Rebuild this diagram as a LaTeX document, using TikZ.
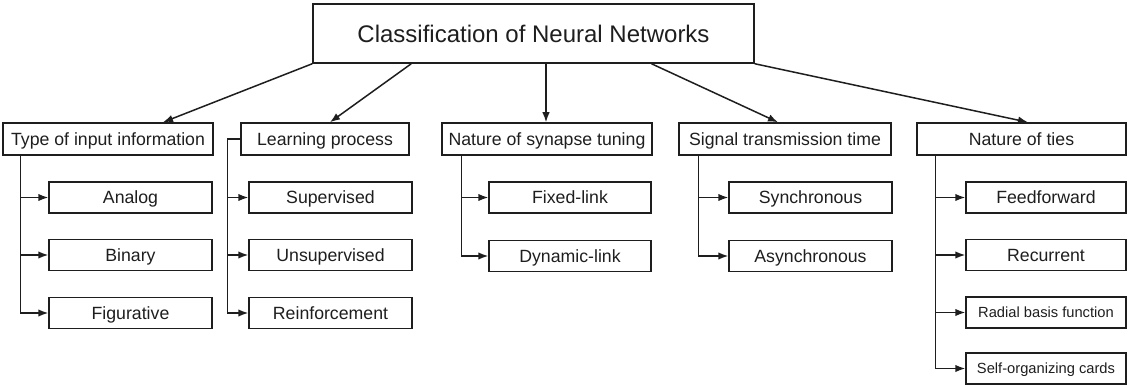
\documentclass[tikz,border=0pt]{standalone}
\usepackage{fontspec}
\setmainfont{Liberation Sans}
\usetikzlibrary{arrows.meta,calc}
\definecolor{ink}{RGB}{30,30,30}
\tikzset{
  box/.style={draw=ink, text=ink, line width=1.5pt, rectangle, inner sep=0pt, align=center, text depth=0pt},
  titlebox/.style={box, minimum width=441pt, minimum height=59pt, text height=17.2pt, font=\fontsize{24}{28}\selectfont},
  catbox/.style={box, minimum height=32pt, text height=12.7pt, font=\fontsize{17.7}{21}\selectfont},
  leafbox/.style={box, minimum height=31pt, text height=12.7pt, font=\fontsize{17.7}{21}\selectfont},
  smallleaf/.style={leafbox, text height=10.5pt, font=\fontsize{14.7}{18}\selectfont},
  link/.style={draw=ink, line width=1.5pt},
  arr/.style={link, -{Latex[length=10pt,width=7.5pt]}},
}
\begin{document}
\begin{tikzpicture}[x=1pt,y=-1pt]
\useasboundingbox (0,0) rectangle (1128,385);

% title
\node[titlebox] (title) at (533.5,33.5) {Classification of Neural Networks};

% categories
\node[catbox, minimum width=210pt] (ti) at (108,139) {Type of input information};
\node[catbox, minimum width=168pt] (lp) at (325,139) {Learning process};
\node[catbox, minimum width=210pt] (ns) at (547,139) {Nature of synapse tuning};
\node[catbox, minimum width=212pt] (st) at (785,139) {Signal transmission time};
\node[catbox, minimum width=209pt] (nt) at (1021.5,139) {Nature of ties};

% leaves
\node[leafbox, minimum width=163pt] (analog) at (130.5,197.5) {Analog};
\node[leafbox, minimum width=163pt] (binary) at (130.5,255) {Binary};
\node[leafbox, minimum width=163pt] (figur) at (130.5,313) {Figurative};

\node[leafbox, minimum width=163pt] (superv) at (330.5,197.5) {Supervised};
\node[leafbox, minimum width=163pt] (unsup) at (330.5,255) {Unsupervised};
\node[leafbox, minimum width=163pt] (reinf) at (330.5,313) {Reinforcement};

\node[leafbox, minimum width=162pt] (fixed) at (570,197.5) {Fixed-link};
\node[leafbox, minimum width=162pt] (dynam) at (570,256) {Dynamic-link};

\node[leafbox, minimum width=163pt] (sync) at (810.5,197.5) {Synchronous};
\node[leafbox, minimum width=163pt] (async) at (810.5,256) {Asynchronous};

\node[leafbox, minimum width=160pt] (feedf) at (1046,197.5) {Feedforward};
\node[leafbox, minimum width=160pt] (recur) at (1046,255) {Recurrent};
\node[smallleaf, minimum width=160pt] (radial) at (1046,312.5) {Radial basis function};
\node[smallleaf, minimum width=160pt] (selforg) at (1046,368.5) {Self-organizing cards};

% arrows from title
\draw[arr] (title.south west) -- ([xshift=55pt]ti.north);
\draw[arr] ([xshift=99pt]title.south west) -- ([xshift=5pt]lp.north);
\draw[arr] ([xshift=-1pt]ns.north |- title.south) -- ([xshift=-1pt]ns.north);
\draw[arr] ([xshift=118pt]title.south) -- ([xshift=-7pt]st.north);
\draw[arr] (title.south east) -- ([xshift=6.5pt]nt.north);

% group 1 trunk
\coordinate (t1) at ([xshift=18pt]ti.south west);
\draw[link] (t1) -- (t1 |- figur.west);
\foreach \c in {analog,binary,figur} \draw[arr] (t1 |- \c.west) -- (\c.west);

% group 2 trunk
\coordinate (t2) at ([xshift=-13pt]lp.west);
\draw[link] (lp.west) -- (t2) -- (t2 |- reinf.west);
\foreach \c in {superv,unsup,reinf} \draw[arr] (t2 |- \c.west) -- (\c.west);

% group 3 trunk
\coordinate (t3) at ([xshift=20pt]ns.south west);
\draw[link] (t3) -- (t3 |- dynam.west);
\foreach \c in {fixed,dynam} \draw[arr] (t3 |- \c.west) -- (\c.west);

% group 4 trunk
\coordinate (t4) at ([xshift=20pt]st.south west);
\draw[link] (t4) -- (t4 |- async.west);
\foreach \c in {sync,async} \draw[arr] (t4 |- \c.west) -- (\c.west);

% group 5 trunk
\coordinate (t5) at ([xshift=19pt]nt.south west);
\draw[link] (t5) -- (t5 |- selforg.west);
\foreach \c in {feedf,recur,radial,selforg} \draw[arr] (t5 |- \c.west) -- (\c.west);
\end{tikzpicture}
\end{document}
